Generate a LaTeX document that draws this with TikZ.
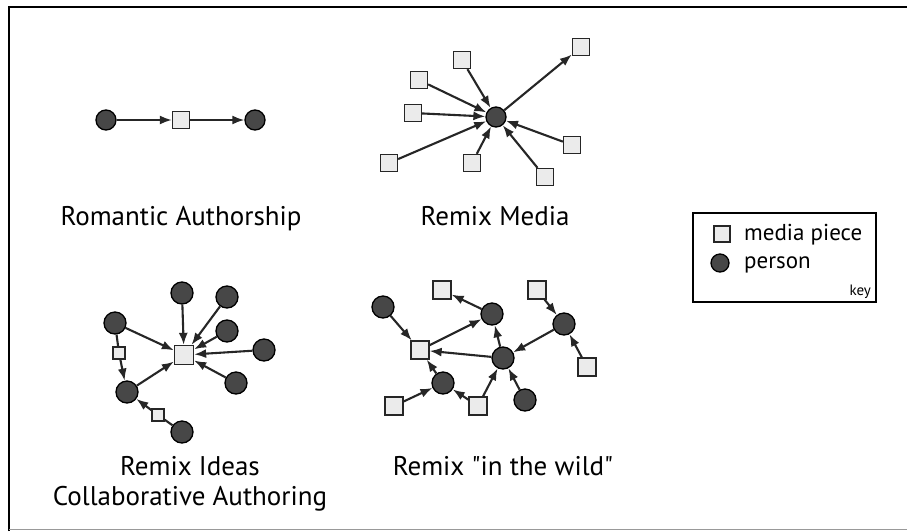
\documentclass[tikz,border=0pt]{standalone}
\usepackage{fontspec}
\setmainfont{PT Sans}[Ligatures=TeXOff]
\usetikzlibrary{arrows.meta}
\begin{document}
\begin{tikzpicture}[x=1pt,y=-1pt,
 person/.style={circle,draw=black,fill=black!72,line width=1.3pt,minimum size=20pt,inner sep=0pt},
 media/.style={rectangle,draw=black!85,fill=black!8,line width=1.3pt,minimum size=17pt,inner sep=0pt},
 smallmedia/.style={media,minimum size=12pt},
 arr/.style={-{Latex[length=12pt,width=9pt]},line width=2.1pt,black!85},
 lnk/.style={line width=2.1pt,black!85},
 title/.style={font=\fontsize{27}{32}\selectfont,inner sep=0pt,anchor=base}]
\useasboundingbox (0,0) rectangle (907,531);
\fill[white] (0,0) rectangle (907,531);
\draw[line width=2pt] (9,531) -- (9,7) -- (907,7);
\draw[line width=1pt,black!40] (9,529.5) -- (907,529.5);

% Romantic Authorship
\node[person] (ra1) at (106,120) {};
\node[media] (ra2) at (181,120) {};
\node[person] (ra3) at (255,120) {};
\draw[arr] (ra1) -- (ra2);
\draw[arr] (ra2) -- (ra3);
\node[title] (t1) at (181,225) {Romantic Authorship};

% Remix Media
\node[person] (mc) at (496,117) {};
\node[media] (m1) at (581,47) {};
\node[media] (m2) at (462,60) {};
\node[media] (m3) at (419,80) {};
\node[media] (m4) at (413,113) {};
\node[media] (m5) at (389,163) {};
\node[media] (m6) at (472,163) {};
\node[media] (m7) at (545,177) {};
\node[media] (m8) at (572,145) {};
\draw[arr] (mc) -- (m1);
\foreach \m in {m2,m3,m4,m5,m6,m7,m8} \draw[arr] (\m) -- (mc);
\node[title] (t2) at (495,225) {Remix Media};

% Remix Ideas
\node[media,minimum size=19pt] (ic) at (184,355) {};
\node[person,minimum size=22pt] (i1) at (182,293) {};
\node[person,minimum size=22pt] (i2) at (227,297) {};
\node[person,minimum size=22pt] (i3) at (227,331) {};
\node[person,minimum size=22pt] (i4) at (264,350) {};
\node[person,minimum size=22pt] (i5) at (236,383) {};
\node[person,minimum size=22pt] (i6) at (115,323) {};
\node[smallmedia] (is1) at (119,353) {};
\node[person,minimum size=22pt] (i7) at (127,392) {};
\node[smallmedia] (is2) at (158,415) {};
\node[person,minimum size=22pt] (i8) at (182,432) {};
\foreach \p in {i1,i2,i3,i4,i5,i6,i7} \draw[arr] (\p) -- (ic);
\draw[lnk] (i6) -- (is1);
\draw[arr] (is1) -- (i7);
\draw[lnk] (i8) -- (is2);
\draw[arr] (is2) -- (i7);
\node[title] (t3) at (190,475) {Remix Ideas};
\node[title] (t4) at (190,505) {Collaborative Authoring};

% Remix in the wild
\node[person,minimum size=22pt] (wa) at (383,307) {};
\node[media,minimum size=18pt] (wb) at (420,350) {};
\node[media,minimum size=18pt] (wc) at (442,290) {};
\node[person,minimum size=22pt] (wd) at (492,314) {};
\node[media,minimum size=18pt] (we) at (537,290) {};
\node[person,minimum size=22pt] (wf) at (564,324) {};
\node[media,minimum size=18pt] (wg) at (587,367) {};
\node[person,minimum size=22pt] (wh) at (503,358) {};
\node[person,minimum size=22pt] (wi) at (443,383) {};
\node[media,minimum size=18pt] (wj) at (394,406) {};
\node[media,minimum size=18pt] (wk) at (478,406) {};
\node[person,minimum size=22pt] (wl) at (525,400) {};
\draw[arr] (wa) -- (wb);
\draw[arr] (wb) -- (wd);
\draw[arr] (wd) -- (wc);
\draw[arr] (wh) -- (wd);
\draw[arr] (wh) -- (wb);
\draw[arr] (wf) -- (wh);
\draw[arr] (we) -- (wf);
\draw[arr] (wg) -- (wf);
\draw[arr] (wi) -- (wb);
\draw[arr] (wj) -- (wi);
\draw[arr] (wk) -- (wi);
\draw[arr] (wk) -- (wh);
\draw[arr] (wl) -- (wh);
\node[title] (t5) at (503,475) {Remix "in the wild"};

% Key
\node[draw=black,line width=2pt,minimum width=183pt,minimum height=89pt,inner sep=0pt] (key) at (784.5,257) {};
\node[media,minimum size=16pt] (ks) at (722,234) {};
\node[person,minimum size=18pt] (kp) at (720,263) {};
\node[anchor=base west,font=\fontsize{23}{27}\selectfont,inner sep=0pt] (kt1) at (744,240) {media piece};
\node[anchor=base west,font=\fontsize{23}{27}\selectfont,inner sep=0pt] (kt2) at (744,268) {person};
\node[anchor=base east,font=\fontsize{15}{18}\selectfont,inner sep=0pt] (kt3) at (871,295) {key};
\end{tikzpicture}
\end{document}
